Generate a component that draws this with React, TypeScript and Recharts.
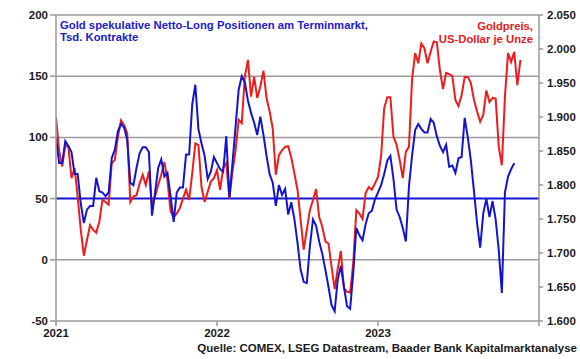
import React from "react";
import {
  ComposedChart,
  Line,
  XAxis,
  YAxis,
  ReferenceLine,
} from "recharts";

// Weekly values, index = week since start of 2021
const goldPrice = [
  1900, 1851, 1827, 1859, 1856, 1810, 1825, 1783, 1734, 1696,
  1719, 1741, 1734, 1730, 1746, 1778, 1775, 1771, 1832, 1837,
  1871, 1895, 1888, 1876, 1775, 1783, 1785, 1802, 1815, 1800,
  1820, 1770, 1783, 1800, 1815, 1834, 1807, 1761, 1753, 1758,
  1766, 1780, 1793, 1778, 1817, 1861, 1859, 1797, 1775, 1790,
  1805, 1810, 1822, 1793, 1825, 1832, 1780, 1820, 1851, 1896,
  1891, 1960, 1984, 1930, 1959, 1928, 1945, 1968, 1928, 1908,
  1883, 1815, 1844, 1851, 1856, 1857, 1840, 1817, 1793, 1749,
  1705, 1734, 1763, 1778, 1794, 1753, 1739, 1717, 1714, 1680,
  1647, 1677, 1703, 1648, 1643, 1642, 1685, 1763, 1758, 1750,
  1788, 1797, 1793, 1802, 1812, 1842, 1913, 1929, 1929, 1871,
  1859, 1837, 1810, 1849, 1856, 1955, 1994, 1979, 2008, 2001,
  1979, 1996, 2011, 2010, 1969, 1941, 1965, 1963, 1960, 1925,
  1916, 1932, 1959, 1959, 1950, 1925, 1908, 1893, 1903, 1939,
  1922, 1928, 1927, 1856, 1829, 1930, 1994, 1981, 1996, 1947,
  1984,
];

const netLong = [
  100, 79, 79, 97, 93, 88, 70, 70, 46, 30,
  41, 44, 44, 67, 56, 55, 52, 55, 83, 90,
  105, 111, 108, 98, 63, 61, 75, 87, 92, 92,
  88, 36, 55, 75, 82, 68, 71, 52, 31, 55,
  59, 59, 86, 86, 127, 143, 107, 95, 85, 66,
  72, 84, 79, 74, 72, 101, 51, 79, 109, 139,
  150, 145, 130, 120, 112, 102, 117, 102, 85, 70,
  63, 44, 61, 53, 58, 37, 47, 33, 14, -8,
  -18, -19, 11, 33, 28, 15, 5, -8, -22, -37,
  -42, -16, -5, -22, -38, -40, -11, 26, 20, 16,
  29, 38, 40, 49, 55, 61, 70, 81, 85, 66,
  41, 35, 26, 15, 60, 85, 106, 111, 107, 104,
  104, 115, 112, 101, 93, 88, 94, 76, 77, 71,
  83, 84, 116, 100, 81, 56, 30, 10, 38, 50,
  35, 48, 33, 8, -27, 55, 68, 74, 79,
];

const yearTicks = [0, 52, 104, 156];
const yearLabels = ["2021", "2022", "2023", ""];
const leftTicks = [-50, 0, 50, 100, 150, 200];
const rightTicks = [1600, 1650, 1700, 1750, 1800, 1850, 1900, 1950, 2000, 2050];
const gridValues = [0, 100, 150, 200];

const goldData = goldPrice.map((v, i) => ({ w: i, price: v }));
const posData = netLong.map((v, i) => ({ w: i, pos: v }));

const FONT = "'Liberation Sans', Arial, sans-serif";
const BLUE = "#1414d0";
const RED = "#ee1c1c";
const GRID = "#9a9a9a";

const fmtPrice = (v: number) =>
  `${Math.floor(v / 1000)}.${String(v % 1000).padStart(3, "0")}`;

const tickStyle = { fontFamily: FONT, fontSize: 11.5, fontWeight: 700, fill: "#1a1a1a" };

export default function App() {
  return (
    <div style={{ position: "absolute", left: 0, top: 0, width: 580, height: 359, background: "#fff" }}>
      <ComposedChart
        width={580}
        height={359}
        margin={{ top: 15, right: 0, bottom: 0, left: 0 }}
      >
        <XAxis
          xAxisId="x"
          type="number"
          dataKey="w"
          domain={[0, 156]}
          ticks={yearTicks}
          tickFormatter={(v: number) => yearLabels[yearTicks.indexOf(v)] ?? ""}
          height={38}
          tickSize={5}
          tickMargin={3}
          stroke={GRID}
          strokeWidth={1.5}
          tick={tickStyle}
          allowDataOverflow
        />
        <YAxis
          yAxisId="left"
          domain={[-50, 200]}
          ticks={leftTicks}
          width={56}
          tickSize={6}
          tickMargin={2}
          stroke={GRID}
          strokeWidth={1.5}
          tick={tickStyle}
          allowDataOverflow
        />
        <YAxis
          yAxisId="right"
          orientation="right"
          domain={[1600, 2050]}
          ticks={rightTicks}
          tickFormatter={fmtPrice}
          width={41}
          tickSize={4}
          tickMargin={4}
          stroke={GRID}
          strokeWidth={1.5}
          tick={tickStyle}
          allowDataOverflow
        />
        {gridValues.map((g) => (
          <ReferenceLine
            key={g}
            xAxisId="x"
            yAxisId="left"
            y={g}
            stroke={GRID}
            strokeWidth={1.5}
          />
        ))}
        <ReferenceLine xAxisId="x" yAxisId="left" y={50} stroke={BLUE} strokeWidth={2} />
        <Line
          xAxisId="x"
          yAxisId="right"
          data={goldData}
          dataKey="price"
          type="linear"
          stroke={RED}
          strokeWidth={2}
          dot={false}
          isAnimationActive={false}
        />
        <Line
          xAxisId="x"
          yAxisId="left"
          data={posData}
          dataKey="pos"
          type="linear"
          stroke={BLUE}
          strokeWidth={2}
          dot={false}
          isAnimationActive={false}
        />
      </ComposedChart>
      <div
        style={{
          position: "absolute",
          left: 60,
          top: 19,
          fontFamily: FONT,
          fontSize: 11.3,
          fontWeight: 700,
          lineHeight: "12px",
          color: "#2020c8",
          whiteSpace: "nowrap",
        }}
      >
        Gold spekulative Netto-Long Positionen am Terminmarkt,
        <br />
        Tsd. Kontrakte
      </div>
      <div
        style={{
          position: "absolute",
          right: 580 - 533,
          top: 20,
          fontFamily: FONT,
          fontSize: 11.3,
          fontWeight: 700,
          lineHeight: "13px",
          color: "#e02020",
          textAlign: "right",
          whiteSpace: "nowrap",
        }}
      >
        Goldpreis,
        <br />
        US-Dollar je Unze
      </div>
      <div
        style={{
          position: "absolute",
          right: 3,
          top: 341,
          fontFamily: FONT,
          fontSize: 11.5,
          fontWeight: 700,
          lineHeight: "14px",
          color: "#1a1a1a",
          whiteSpace: "nowrap",
        }}
      >
        Quelle: COMEX, LSEG Datastream, Baader Bank Kapitalmarktanalyse
      </div>
    </div>
  );
}
